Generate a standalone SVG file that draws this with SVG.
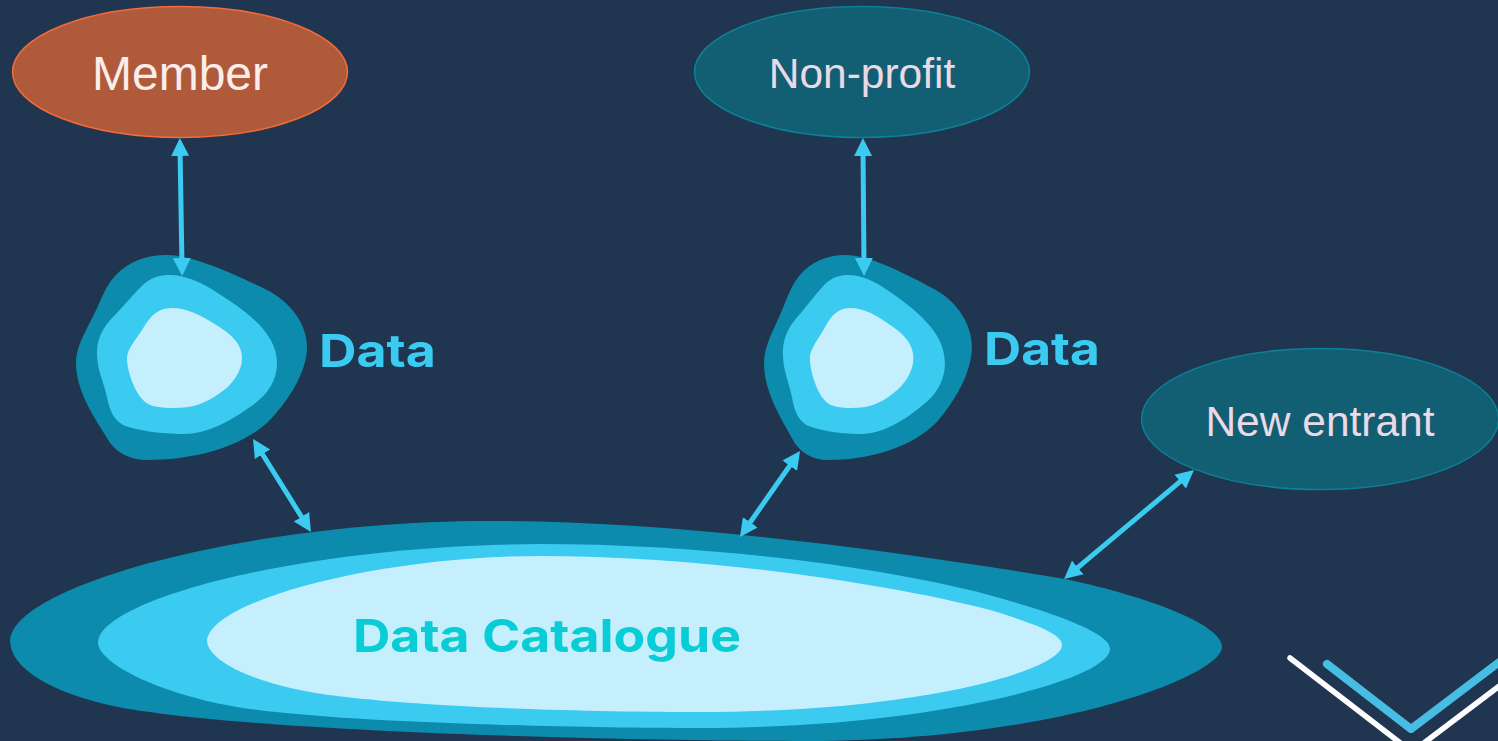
<svg xmlns="http://www.w3.org/2000/svg" xmlns:xlink="http://www.w3.org/1999/xlink" width="1498" height="741" viewBox="0 0 1498 741">
<style>
.dark{fill:#0C8BAC}.mid{fill:#3BCAF0}.light{fill:#C5EFFC}
.conn{stroke:#3BCAF0;stroke-width:5;fill:none;marker-start:url(#tip);marker-end:url(#tip)}
.lbl{font-family:"Liberation Sans",Arial,sans-serif;text-anchor:middle}
.bold{font-family:Inter,"Liberation Sans",sans-serif;font-weight:700;font-size:45px}
.oval{stroke-width:1.5}
</style>
<defs>
<marker id="tip" markerUnits="userSpaceOnUse" markerWidth="20" markerHeight="20" viewBox="0 -10 20 20" refX="8" refY="0" orient="auto-start-reverse"><path d="M0,-9L18,0L0,9Z" fill="#3BCAF0"/></marker>
<g id="blob">
<path class="dark" d="M167,255C192,255 230,272 267,290C292,303 307,325 307,347C307,372 288,402 267,423C240,447 195,460 147,460C130,460 118,453 110,443C100,425 76,395 76,363C76,345 88,328 98,306C104,292 108,284 115,276C128,262 145,255 167,255Z"/>
<path class="mid" d="M170,275C185,275 200,282 213,290C245,310 277,332 277,363C277,383 265,397 250,407C230,421 208,434 183,434C160,434 135,430 123,425C112,418 110,410 107,397C103,380 97,370 97,353C97,338 103,328 112,318C125,305 135,292 145,283C153,277 160,275 170,275Z"/>
<path class="light" d="M172,308C187,308 200,315 213,323C230,333 242,343 242,358C242,372 232,385 220,393C205,404 192,408 173,408C158,408 148,406 143,400C135,392 127,372 127,358C127,350 134,342 140,333C146,325 152,308 172,308Z"/>
</g>
</defs>
<rect width="1498" height="741" fill="#20354F"/>
<g id="logo" fill="none" stroke-linecap="round" stroke-linejoin="round">
<path d="M1290,658L1412,752L1510,678" stroke="#FFFFFF" stroke-width="5.5"/>
<path d="M1327,664L1411,729L1510,654" stroke="#47BDE4" stroke-width="8"/>
</g>
<g id="catalogue">
<path class="dark" d="M10,640C14,585 250,521 490,521C660,521 860,545 1065,579C1150,597 1222,625 1222,647C1222,675 1060,741 805,741C620,741 250,732 118,707C50,693 10,668 10,640Z"/>
<path class="mid" d="M98,642C100,600 300,545 540,544C720,544 900,570 1000,598C1070,618 1110,635 1110,649C1110,680 930,728 700,728C560,728 330,722 237,707C165,695 98,665 98,642Z"/>
<path class="light" d="M207,640C212,600 380,556 540,556C700,556 880,582 990,610C1040,625 1062,635 1062,645C1062,670 920,712 700,712C600,712 410,708 316,693C250,682 207,660 207,640Z"/>
<text class="bold" x="353" y="652" fill="#09CDD6" textLength="388" lengthAdjust="spacingAndGlyphs">Data Catalogue</text>
</g>
<g id="member"><ellipse class="oval" cx="180" cy="72" rx="167.500" ry="65.500" fill="#B05A3C" stroke="#F26B38"/><text class="lbl" x="180" y="90" font-size="48" fill="#FBEDEA">Member</text></g>
<g id="nonprofit"><ellipse class="oval" cx="862" cy="72" rx="167.500" ry="65.500" fill="#125F74" stroke="#0B8195"/><text class="lbl" x="862" y="88" font-size="42.500" fill="#EBD9E6">Non-profit</text></g>
<g id="newentrant"><ellipse class="oval" cx="1320" cy="419" rx="178.500" ry="70.500" fill="#125F74" stroke="#0B8195"/><text class="lbl" x="1320" y="436" font-size="42.500" fill="#EBD9E6">New entrant</text></g>
<g id="data1"><use xlink:href="#blob" href="#blob"/><text class="bold" x="319" y="367" fill="#3BCAF0" textLength="117" lengthAdjust="spacingAndGlyphs">Data</text></g>
<g id="data2"><use xlink:href="#blob" href="#blob" transform="matrix(0.9,0,0,1,695.6,0)"/><text class="bold" x="984" y="365" fill="#3BCAF0" textLength="116" lengthAdjust="spacingAndGlyphs">Data</text></g>
<g id="connectors">
<line class="conn" x1="180" y1="148" x2="182" y2="266"/>
<line class="conn" x1="863" y1="148" x2="864" y2="266"/>
<line class="conn" x1="258.300" y1="447.500" x2="305.700" y2="523.500"/>
<line class="conn" x1="794.300" y1="459.200" x2="745.700" y2="528.800"/>
<line class="conn" x1="1186.300" y1="476.400" x2="1071.700" y2="572.600"/>
</g>
</svg>
